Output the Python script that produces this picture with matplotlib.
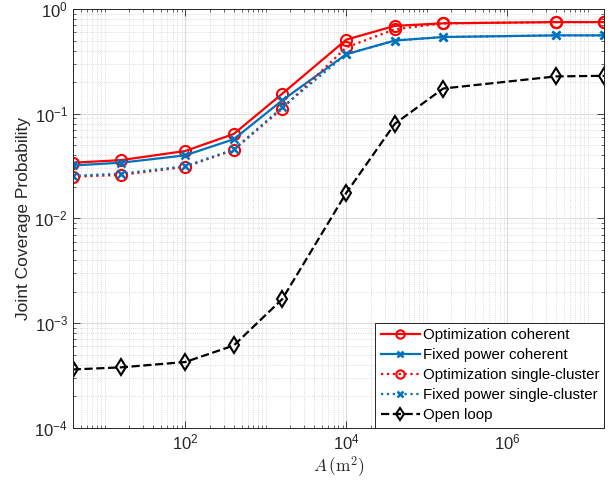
import numpy as np
import matplotlib
matplotlib.use("Agg")
import matplotlib.pyplot as plt
from matplotlib.ticker import LogLocator, NullFormatter, FixedLocator

# area values A (m^2)
area = [4, 16, 100, 400, 1600, 1e4, 4e4, 1.6e5, 4e6, 1.6e7]

opt_coherent = [0.034, 0.036, 0.044, 0.064, 0.155, 0.51, 0.69, 0.73, 0.75, 0.75]
fixed_coherent = [0.032, 0.034, 0.040, 0.057, 0.134, 0.37, 0.50, 0.54, 0.56, 0.56]
opt_single = [0.025, 0.026, 0.031, 0.045, 0.112, 0.43, 0.64, 0.73, 0.75, 0.75]
fixed_single = [0.0255, 0.0267, 0.0315, 0.0455, 0.115, 0.37, 0.50, 0.54, 0.56, 0.56]
open_loop = [3.6e-4, 3.77e-4, 4.24e-4, 6.1e-4, 1.69e-3, 0.0175, 0.080, 0.174, 0.227, 0.23]

labels = ['Optimization coherent', 'Fixed power coherent',
          'Optimization single-cluster', 'Fixed power single-cluster', 'Open loop']

plt.rcParams['font.family'] = ['Liberation Sans', 'DejaVu Sans']
plt.rcParams['mathtext.fontset'] = 'custom'
plt.rcParams['mathtext.rm'] = 'Liberation Sans'
plt.rcParams['mathtext.it'] = 'Liberation Sans:italic'

gray = '#262626'
red = '#FF0000'
blue = '#0072BD'

fig = plt.figure(figsize=(6.13, 4.82), dpi=100)
ax = fig.add_axes([0.1186, 0.1127, 0.8672, 0.8686])

lw = 1.6
ax.plot(area, opt_coherent, '-o', color=red, lw=lw, ms=8, mfc='none', mew=1.5, label=labels[0])
ax.plot(area, fixed_coherent, '-x', color=blue, lw=lw, ms=6, mew=1.8, label=labels[1])
ax.plot(area, opt_single, ':o', color=red, lw=lw, ms=8, mfc='none', mew=1.5, label=labels[2])
ax.plot(area, fixed_single, ':x', color=blue, lw=lw, ms=6, mew=1.8, label=labels[3])
ax.plot(area, open_loop, '--d', color='black', lw=lw, ms=8, mfc='none', mew=1.5, label=labels[4])

ax.set_xscale('log')
ax.set_yscale('log')
ax.set_xlim(4, 1.6e7)
ax.set_ylim(1e-4, 1)

ax.xaxis.set_major_locator(FixedLocator([1e2, 1e4, 1e6]))
ax.xaxis.set_minor_locator(LogLocator(base=10, subs=np.arange(1, 10), numticks=20))
ax.xaxis.set_minor_formatter(NullFormatter())
ax.yaxis.set_minor_locator(LogLocator(base=10, subs=np.arange(2, 10), numticks=20))
ax.yaxis.set_minor_formatter(NullFormatter())

ax.grid(True, which='major', color='#dcdcdc', lw=0.8, ls='-')
ax.grid(True, which='minor', color='#d0d0d0', lw=0.6, ls=':')
ax.set_axisbelow(True)

ax.tick_params(which='both', direction='in', top=True, right=True, colors=gray, labelsize=12)
ax.tick_params(which='major', length=5, width=0.6)
ax.tick_params(which='minor', length=2.5, width=0.5)
for s in ax.spines.values():
    s.set_color(gray)
    s.set_linewidth(0.7)

ax.set_ylabel('Joint Coverage Probability', fontsize=12.5, color=gray, labelpad=2)
ax.set_xlabel(r'$A\,(\mathrm{m}^2)$', fontsize=12.5, color=gray, math_fontfamily='cm', labelpad=1)

leg = ax.legend(loc='lower right', fontsize=10.8, fancybox=False, framealpha=1,
                edgecolor=gray, borderaxespad=0, handlelength=2.6, labelspacing=0.4,
                handletextpad=0.2, borderpad=0.35, markerscale=0.75)
leg.get_frame().set_linewidth(0.7)

fig.savefig('out.png', dpi=100)
